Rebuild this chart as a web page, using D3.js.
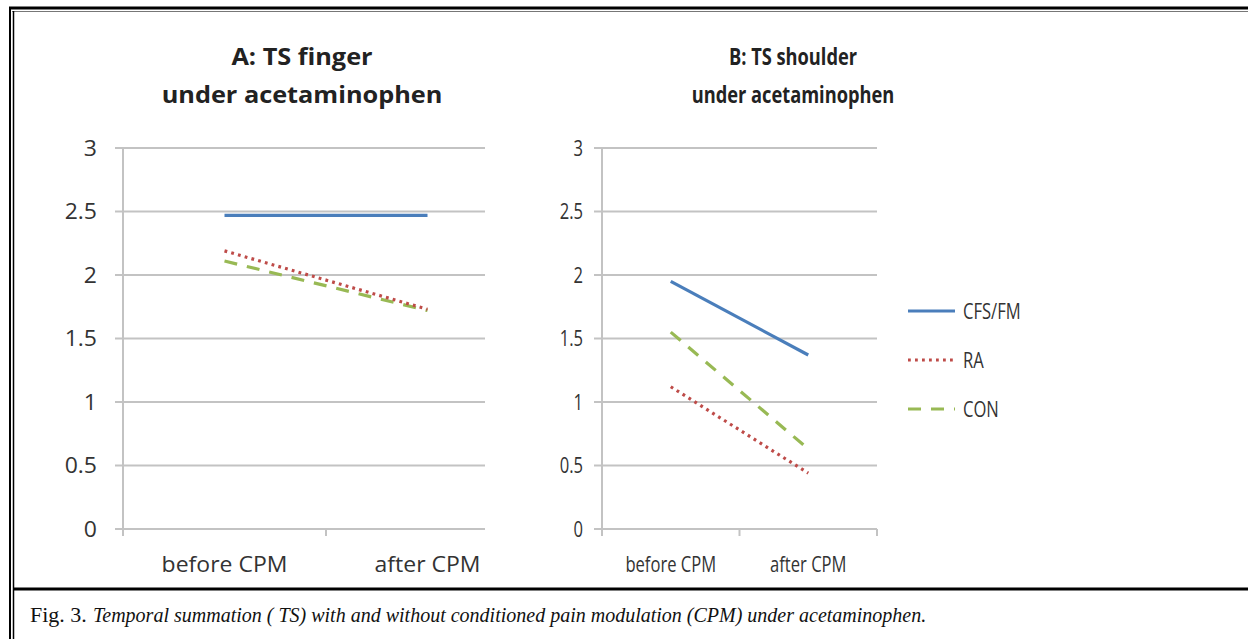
<!DOCTYPE html>
<html>
<head>
<meta charset="utf-8">
<script src="https://cdn.jsdelivr.net/npm/d3@7"></script>
<style>
  html, body { margin: 0; padding: 0; background: #fff; }
  svg { display: block; }
</style>
</head>
<body>
<svg id="chart" width="1248" height="639"></svg>
<script>
// ---------- data ----------
const categories = ["before CPM", "after CPM"];
const yTicks = [0, 0.5, 1, 1.5, 2, 2.5, 3];
const seriesNames = ["CFS/FM", "RA", "CON"];
const fingerCFS = [2.47, 2.47];
const fingerRA  = [2.19, 1.73];
const fingerCON = [2.11, 1.72];
const shoulderCFS = [1.95, 1.37];
const shoulderRA  = [1.12, 0.44];
const shoulderCON = [1.55, 0.63];
const titleA = ["A: TS finger", "under acetaminophen"];
const titleB = ["B: TS shoulder", "under acetaminophen"];
const captionLead = "Fig. 3.";
const captionText = "Temporal summation ( TS) with and without conditioned pain modulation (CPM) under acetaminophen.";

// ---------- styles ----------
const styles = {
  "CFS/FM": { color: "#4a7ebb", dash: null },
  "RA":     { color: "#be4b48", dash: "2.8 4.2" },
  "CON":    { color: "#98b954", dash: "13 10" }
};
const gridColor = "#c3c3c3";
const textColor = "#333333";
const font = "'Open Sans', 'DejaVu Sans', sans-serif";

const svg = d3.select("#chart");

// borders
svg.append("rect").attr("x", 0).attr("y", 0).attr("width", 1248).attr("height", 639).attr("fill", "#fff");
svg.append("line").attr("x1", 9).attr("x2", 1248).attr("y1", 8).attr("y2", 8).attr("stroke", "#000").attr("stroke-width", 3);
svg.append("line").attr("x1", 12).attr("x2", 1248).attr("y1", 11.5).attr("y2", 11.5).attr("stroke", "#777").attr("stroke-width", 1);
svg.append("line").attr("x1", 10).attr("x2", 10).attr("y1", 7).attr("y2", 639).attr("stroke", "#000").attr("stroke-width", 2);
svg.append("line").attr("x1", 13.5).attr("x2", 13.5).attr("y1", 11).attr("y2", 639).attr("stroke", "#000").attr("stroke-width", 1.5);
svg.append("line").attr("x1", 13).attr("x2", 1248).attr("y1", 589).attr("y2", 589).attr("stroke", "#000").attr("stroke-width", 3);

function stxt(g, x, y, s, sx, opts) {
  return g.append("text")
    .attr("transform", `translate(${x},${y}) scale(${sx},1)`)
    .attr("font-family", opts.family || font)
    .attr("font-size", opts.size)
    .attr("font-weight", opts.weight || "normal")
    .attr("font-style", opts.style || "normal")
    .attr("text-anchor", opts.anchor || "middle")
    .attr("fill", opts.fill || textColor)
    .text(s);
}

function drawPanel(cfg) {
  const g = svg.append("g");
  const y = d3.scaleLinear().domain([0, 3]).range([529, 148]);
  const x = d3.scalePoint().domain(categories).range([cfg.axisX, cfg.endX]).padding(0.5);
  const band = (cfg.endX - cfg.axisX) / categories.length;

  g.selectAll(".grid").data(yTicks).join("line")
    .attr("x1", cfg.axisX - 8).attr("x2", cfg.gridEnd)
    .attr("y1", d => y(d)).attr("y2", d => y(d))
    .attr("stroke", gridColor).attr("stroke-width", 2);
  g.append("line").attr("x1", cfg.axisX).attr("x2", cfg.axisX)
    .attr("y1", y(3)).attr("y2", y(0) + 7)
    .attr("stroke", gridColor).attr("stroke-width", 2);
  const bounds = d3.range(categories.length + 1).map(i => cfg.axisX + i * band).filter(v => v <= cfg.gridEnd + 1);
  g.selectAll(".ctick").data(bounds).join("line")
    .attr("x1", d => d).attr("x2", d => d)
    .attr("y1", y(0)).attr("y2", y(0) + 7)
    .attr("stroke", gridColor).attr("stroke-width", 2);

  yTicks.forEach(v => {
    stxt(g, cfg.labelRight, y(v) + 7.5, d3.format("")(v), cfg.sx * 20 / 21, { size: 21, anchor: "end" });
  });
  categories.forEach(c => {
    stxt(g, x(c), 572, c, cfg.sx * 20 / 21, { size: 21 });
  });
  stxt(g, cfg.titleX, 65, cfg.title[0], cfg.sx * 22 / 24, { size: 24, weight: "bold", fill: "#222" });
  stxt(g, cfg.titleX, 103, cfg.title[1], cfg.sx * 22 / 24, { size: 24, weight: "bold", fill: "#222" });

  const line = d3.line().x((d, i) => x(categories[i])).y(d => y(d));
  cfg.series.forEach(([name, vals]) => {
    const st = styles[name];
    g.append("path").datum(vals)
      .attr("d", line)
      .attr("fill", "none")
      .attr("stroke", st.color)
      .attr("stroke-width", 3.2)
      .attr("stroke-dasharray", st.dash);
  });
  return g;
}

drawPanel({
  axisX: 123, endX: 529, gridEnd: 485, labelRight: 97, sx: 1.15, titleX: 302,
  title: titleA,
  series: [["CON", fingerCON], ["RA", fingerRA], ["CFS/FM", fingerCFS]]
});
drawPanel({
  axisX: 602, endX: 877, gridEnd: 877, labelRight: 583, sx: 0.83, titleX: 793,
  title: titleB,
  series: [["CON", shoulderCON], ["RA", shoulderRA], ["CFS/FM", shoulderCFS]]
});

// legend
const legendY = d3.scalePoint().domain(seriesNames).range([311, 409]);
const lg = svg.append("g");
seriesNames.forEach(n => {
  const st = styles[n];
  lg.append("line")
    .attr("x1", 908).attr("x2", 955)
    .attr("y1", legendY(n)).attr("y2", legendY(n))
    .attr("stroke", st.color).attr("stroke-width", 3.2)
    .attr("stroke-dasharray", st.dash);
  stxt(lg, 963, legendY(n) + 7.5, n, 0.83 * 20 / 21, { size: 21, anchor: "start" });
});

// caption
const serif = "'Liberation Serif', 'DejaVu Serif', serif";
stxt(svg, 30, 622, captionLead, 1, { size: 22, anchor: "start", family: serif, fill: "#111" });
stxt(svg, 93, 622, captionText, 0.91, { size: 22, anchor: "start", family: serif, style: "italic", fill: "#111" });
</script>
</body>
</html>
